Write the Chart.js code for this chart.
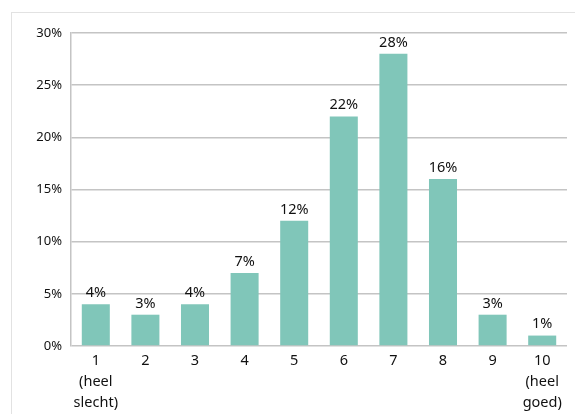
<!DOCTYPE html>
<html>
<head>
<meta charset="utf-8">
<script src="https://cdn.jsdelivr.net/npm/chart.js@4/dist/chart.umd.min.js"></script>
<style>
  html, body { margin: 0; padding: 0; background: #fff; }
  #wrap { position: relative; width: 575px; height: 414px; overflow: hidden; }
  #frame { position: absolute; left: 11px; top: 12px; width: 600px; height: 450px;
           border: 1px solid #e2e2e2; box-sizing: border-box; }
  canvas { position: absolute; left: 0; top: 0; }
</style>
</head>
<body>
<div id="wrap">
  <div id="frame"></div>
  <canvas id="chart" width="575" height="414"></canvas>
</div>
<script>
// rapportcijfers, aandeel per cijfer
const categories = [['1', '(heel', 'slecht)'], '2', '3', '4', '5', '6', '7', '8', '9', ['10', '(heel', 'goed)']];
const values = [4, 3, 4, 7, 12, 22, 28, 16, 3, 1];
const yTicks = [0, 5, 10, 15, 20, 25, 30];

const FONT = '"Noto Sans", "Open Sans", sans-serif';

// labels boven de staven
const valueLabels = {
    id: 'valueLabels',
    afterDatasetsDraw(chart) {
        const ctx = chart.ctx;
        const meta = chart.getDatasetMeta(0);
        ctx.save();
        ctx.font = '14.5px ' + FONT;
        ctx.fillStyle = '#111';
        ctx.textAlign = 'center';
        ctx.textBaseline = 'bottom';
        meta.data.forEach((bar, i) => {
            ctx.fillText(values[i] + '%', bar.x, bar.y - 4);
        });
        ctx.restore();
    }
};

new Chart(document.getElementById('chart').getContext('2d'), {
    type: 'bar',
    data: {
        labels: categories,
        datasets: [{
            data: values,
            backgroundColor: '#80c6b9',
            categoryPercentage: 1,
            barPercentage: 0.565
        }]
    },
    options: {
        responsive: false,
        animation: false,
        layout: { padding: { top: 33, right: 8, left: 0, bottom: 0 } },
        plugins: {
            legend: { display: false },
            tooltip: { enabled: false }
        },
        scales: {
            x: {
                grid: { display: false, drawTicks: false },
                border: { display: false },
                ticks: {
                    color: '#111',
                    font: { family: FONT, size: 14.5, lineHeight: 1.45 },
                    padding: 4,
                    maxRotation: 0,
                    autoSkip: false
                },
                afterFit(scale) { scale.height = 68; }
            },
            y: {
                min: 0,
                max: 30,
                afterBuildTicks(scale) { scale.ticks = yTicks.map(v => ({ value: v })); },
                grid: { color: '#c4c4c4', lineWidth: 1.5, drawTicks: false },
                border: { color: '#c4c4c4', width: 1.5 },
                ticks: {
                    color: '#111',
                    font: { family: FONT, size: 13 },
                    padding: 9,
                    callback: v => v + '%'
                },
                afterFit(scale) { scale.width = 71; }
            }
        }
    },
    plugins: [valueLabels]
});
</script>
</body>
</html>
